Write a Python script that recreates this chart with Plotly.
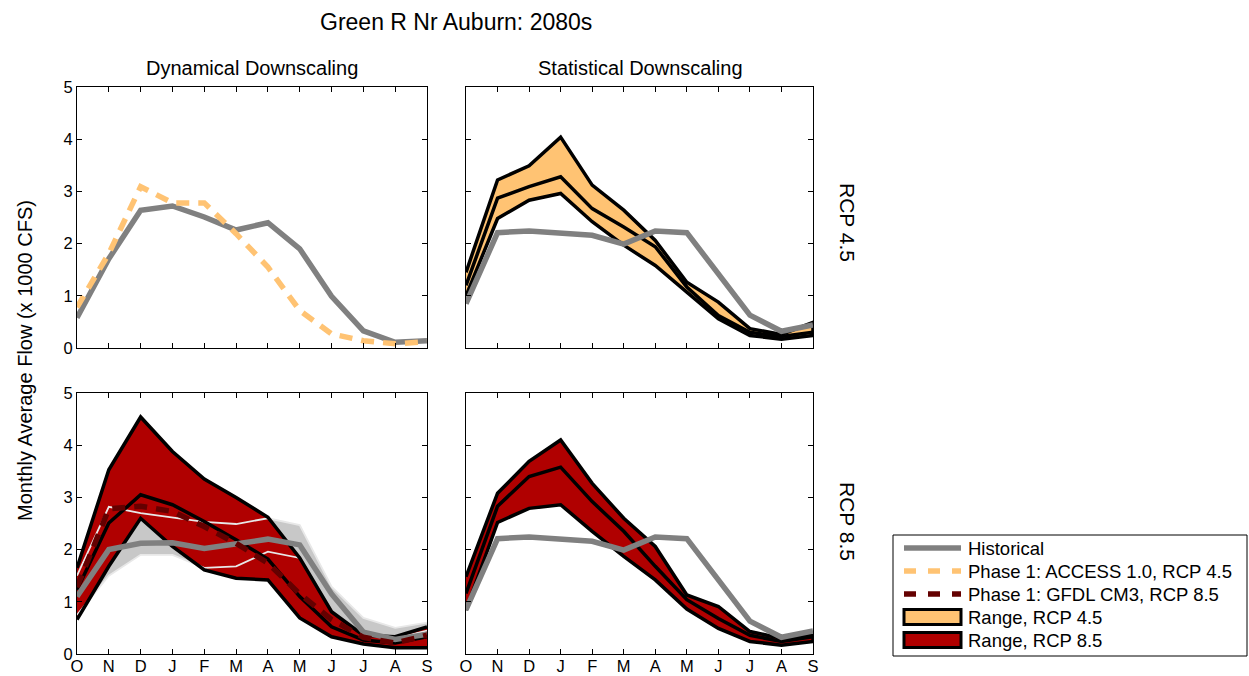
import plotly.graph_objects as go

# ---------------- data ----------------
months = ["O", "N", "D", "J", "F", "M", "A", "M", "J", "J", "A", "S"]
x = list(range(12))

# Top-left: Dynamical downscaling, RCP 4.5
hist_dyn45 = [0.58, 1.71, 2.64, 2.72, 2.51, 2.26, 2.40, 1.90, 0.99, 0.33, 0.11, 0.14]
access_rcp45 = [0.78, 1.81, 3.09, 2.78, 2.78, 2.19, 1.55, 0.72, 0.27, 0.14, 0.08, 0.12]

# Statistical downscaling historical (both right panels)
hist_stat = [0.85, 2.21, 2.24, 2.21, 2.16, 1.99, 2.24, 2.21, 1.42, 0.63, 0.32, 0.44]

# Top-right: Statistical, RCP 4.5 range
stat45_hi = [1.45, 3.22, 3.49, 4.04, 3.12, 2.64, 2.06, 1.26, 0.88, 0.37, 0.26, 0.49]
stat45_mid = [1.20, 2.87, 3.09, 3.28, 2.67, 2.32, 1.94, 1.17, 0.62, 0.30, 0.22, 0.30]
stat45_lo = [1.00, 2.48, 2.83, 2.96, 2.42, 1.97, 1.58, 1.07, 0.56, 0.24, 0.17, 0.24]

# Bottom-left: Dynamical, RCP 8.5
hist_dyn85 = [1.10, 2.00, 2.12, 2.13, 2.02, 2.10, 2.20, 2.09, 1.15, 0.42, 0.28, 0.38]
hist_dyn85_hi = [1.50, 2.82, 2.70, 2.61, 2.53, 2.49, 2.60, 2.47, 1.29, 0.69, 0.50, 0.60]
hist_dyn85_lo = [0.75, 1.50, 1.90, 1.90, 1.65, 1.68, 1.96, 1.84, 0.81, 0.36, 0.30, 0.45]
dyn85_hi = [1.65, 3.53, 4.54, 3.88, 3.35, 3.00, 2.62, 1.84, 0.81, 0.36, 0.33, 0.52]
dyn85_mid = [1.23, 2.51, 3.05, 2.86, 2.54, 2.19, 1.82, 1.10, 0.52, 0.27, 0.21, 0.33]
dyn85_lo = [0.66, 1.68, 2.60, 2.06, 1.61, 1.45, 1.42, 0.69, 0.33, 0.19, 0.12, 0.12]
gfdl_rcp85 = [1.28, 2.78, 2.83, 2.73, 2.44, 2.12, 1.74, 1.15, 0.66, 0.32, 0.21, 0.36]

# Bottom-right: Statistical, RCP 8.5 range
stat85_hi = [1.48, 3.08, 3.69, 4.10, 3.27, 2.60, 2.06, 1.13, 0.91, 0.43, 0.30, 0.36]
stat85_mid = [1.16, 2.83, 3.40, 3.58, 2.92, 2.35, 1.68, 1.04, 0.68, 0.36, 0.24, 0.33]
stat85_lo = [0.84, 2.52, 2.79, 2.86, 2.35, 1.87, 1.42, 0.86, 0.49, 0.24, 0.17, 0.24]

legend_labels = ["Historical", "Phase 1: ACCESS 1.0, RCP 4.5",
                 "Phase 1: GFDL CM3, RCP 8.5", "Range, RCP 4.5", "Range, RCP 8.5"]

# ---------------- styles ----------------
GRAY = "rgb(128,128,128)"
ORANGE = "rgb(255,195,115)"
RED = "rgb(176,0,0)"
DARKRED = "rgb(100,0,0)"
BAND = "rgb(200,200,200)"
EDGE = "rgb(232,232,232)"
FONT = "Liberation Sans, Arial, Helvetica, sans-serif"
DASH = "13px,9px"

fig = go.Figure()


def band(xa, ya, hi, lo, fillcolor, outline=True):
    fig.add_trace(go.Scatter(
        x=x + x[::-1], y=hi + lo[::-1], fill="toself", fillcolor=fillcolor,
        mode="lines",
        line=dict(color="black" if outline else "rgba(0,0,0,0)", width=3.5 if outline else 0),
        xaxis=xa, yaxis=ya, showlegend=False, hoverinfo="skip"))


def line(xa, ya, y, color, width, dash=None):
    fig.add_trace(go.Scatter(
        x=x, y=y, mode="lines", line=dict(color=color, width=width, dash=dash),
        xaxis=xa, yaxis=ya, showlegend=False, hoverinfo="skip"))


# Top-left
line("x", "y", hist_dyn45, GRAY, 5.5)
line("x", "y", access_rcp45, ORANGE, 5.5, dash=DASH)

# Top-right
band("x2", "y2", stat45_hi, stat45_lo, ORANGE)
line("x2", "y2", stat45_mid, "black", 3.5)
line("x2", "y2", hist_stat, GRAY, 5.5)

# Bottom-left
band("x3", "y3", hist_dyn85_hi, hist_dyn85_lo, BAND, outline=False)
band("x3", "y3", dyn85_hi, dyn85_lo, RED, outline=False)
line("x3", "y3", hist_dyn85_hi, EDGE, 1.8)
line("x3", "y3", hist_dyn85_lo, EDGE, 1.8)
line("x3", "y3", dyn85_hi, "black", 3.5)
line("x3", "y3", dyn85_lo, "black", 3.5)
line("x3", "y3", dyn85_mid, "black", 3.5)
line("x3", "y3", hist_dyn85, GRAY, 5.5)
line("x3", "y3", gfdl_rcp85, DARKRED, 5.5, dash=DASH)

# Bottom-right
band("x4", "y4", stat85_hi, stat85_lo, RED)
line("x4", "y4", stat85_mid, "black", 3.5)
line("x4", "y4", hist_stat, GRAY, 5.5)

# ---------------- axes ----------------
W, H = 1249, 676
L, R, T, B = 77, 436, 87, 22
pw, ph = W - L - R, H - T - B


def px_x(v):
    return (v - L) / pw


def px_y(v):
    return (H - B - v) / ph


ax_common = dict(showline=True, linecolor="black", linewidth=1, mirror="allticks",
                 ticks="inside", ticklen=5, tickcolor="black", showgrid=False,
                 zeroline=False, tickfont=dict(size=16.5, color="black", family=FONT))

domains = {
    1: ((77, 427), (87, 348)),
    2: ((466, 813), (87, 348)),
    3: ((77, 427), (393, 654)),
    4: ((466, 813), (393, 654)),
}
layout_axes = {}
for i, ((xa, xb), (yt, yb)) in domains.items():
    sfx = "" if i == 1 else str(i)
    layout_axes["xaxis" + sfx] = dict(ax_common, domain=[px_x(xa), px_x(xb)], range=[0, 11],
                                      tickvals=x, ticktext=months,
                                      showticklabels=i in (3, 4),
                                      ticklabelstandoff=-3,
                                      anchor="y" + sfx)
    layout_axes["yaxis" + sfx] = dict(ax_common, domain=[px_y(yb), px_y(yt)], range=[0, 5],
                                      tickvals=[0, 1, 2, 3, 4, 5],
                                      showticklabels=i in (1, 3),
                                      anchor="x" + sfx)

fig.update_layout(**layout_axes)

annotations = [
    dict(text="Green R Nr Auburn: 2080s", x=px_x(456), y=px_y(22), font=dict(size=23)),
    dict(text="Dynamical Downscaling", x=px_x(252), y=px_y(68), font=dict(size=20)),
    dict(text="Statistical Downscaling", x=px_x(640), y=px_y(68), font=dict(size=20)),
    dict(text="RCP 4.5", x=px_x(848), y=px_y(222), textangle=90, font=dict(size=21)),
    dict(text="RCP 8.5", x=px_x(848), y=px_y(521), textangle=90, font=dict(size=21)),
    dict(text="Monthly Average Flow (x 1000 CFS)", x=px_x(25), y=px_y(361),
         textangle=-90, font=dict(size=20)),
]
for a in annotations:
    a.update(xanchor="center", yanchor="middle")

# ---------------- manual legend ----------------
shapes = [dict(type="rect", xref="paper", yref="paper",
               x0=px_x(893), x1=px_x(1247), y0=px_y(656), y1=px_y(535),
               line=dict(color="black", width=1), fillcolor="white", layer="above")]
leg_y = [548, 571, 594, 617, 640]
sx0, sx1 = 904, 961
shapes.append(dict(type="line", xref="paper", yref="paper",
                   x0=px_x(sx0), x1=px_x(sx1), y0=px_y(leg_y[0]), y1=px_y(leg_y[0]),
                   line=dict(color=GRAY, width=5.5), layer="above"))
shapes.append(dict(type="line", xref="paper", yref="paper",
                   x0=px_x(sx0), x1=px_x(sx1), y0=px_y(leg_y[1]), y1=px_y(leg_y[1]),
                   line=dict(color=ORANGE, width=5.5, dash="12px,12px"), layer="above"))
shapes.append(dict(type="line", xref="paper", yref="paper",
                   x0=px_x(sx0), x1=px_x(sx1), y0=px_y(leg_y[2]), y1=px_y(leg_y[2]),
                   line=dict(color=DARKRED, width=5.5, dash="12px,12px"), layer="above"))
for yc, col in ((leg_y[3], ORANGE), (leg_y[4], RED)):
    shapes.append(dict(type="rect", xref="paper", yref="paper",
                       x0=px_x(sx0), x1=px_x(sx1), y0=px_y(yc + 7.5), y1=px_y(yc - 7.5),
                       line=dict(color="black", width=3), fillcolor=col, layer="above"))
for yc, lab in zip(leg_y, legend_labels):
    annotations.append(dict(text=lab, x=px_x(966), y=px_y(yc), xanchor="left",
                            yanchor="middle", font=dict(size=18.5)))

for a in annotations:
    a.update(xref="paper", yref="paper", showarrow=False)
    a["font"].update(family=FONT, color="black")

fig.update_layout(
    width=W, height=H,
    margin=dict(l=L, r=R, t=T, b=B, autoexpand=False),
    paper_bgcolor="white", plot_bgcolor="white",
    font=dict(family=FONT, color="black", size=16.5),
    annotations=annotations,
    shapes=shapes,
    showlegend=False,
)

fig.write_html("out.html", config={"displayModeBar": False, "staticPlot": True},
               post_script="document.body.style.margin='0px';document.body.style.overflow='hidden';")
